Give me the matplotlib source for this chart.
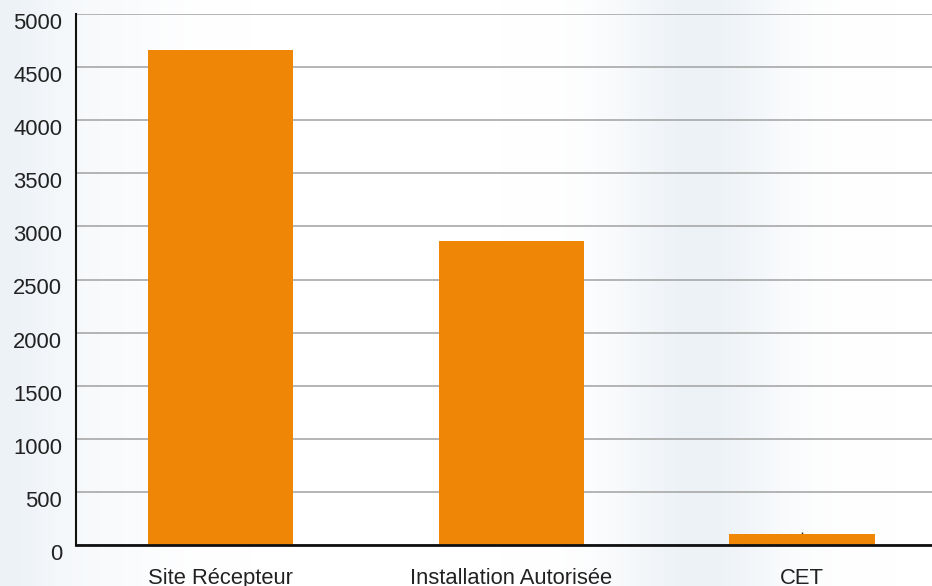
import numpy as np
import matplotlib
matplotlib.use("Agg")
import matplotlib.pyplot as plt
import matplotlib.transforms as mtransforms
from matplotlib.colors import LinearSegmentedColormap

categories = ["Site Récepteur", "Installation Autorisée", "CET"]
values = [4660, 2860, 104]
errors = [0, 0, 20]
yticks = [0, 500, 1000, 1500, 2000, 2500, 3000, 3500, 4000, 4500, 5000]

plt.rcParams["font.family"] = ["Liberation Sans", "DejaVu Sans"]

fig = plt.figure(figsize=(9.32, 5.86), dpi=100)

# soft bluish backdrop behind the plot
bg = fig.add_axes([0, 0, 1, 1], zorder=-1)
xs = np.linspace(0, 1, 932)
shade = (0.9 * np.exp(-((xs - 0.0) / 0.06) ** 2)
         + 0.35 * np.exp(-((xs - 0.10) / 0.08) ** 2)
         + 1.0 * np.exp(-((xs - 0.75) / 0.09) ** 2))
shade = np.clip(shade, 0, 1)
cmap = LinearSegmentedColormap.from_list("bgc", ["#ffffff", "#edf2f7"])
bg.imshow(shade[np.newaxis, :], aspect="auto", cmap=cmap, vmin=0, vmax=1,
          extent=[0, 1, 0, 1])
bg.axis("off")

ax = fig.add_axes([76 / 932, 1 - 545 / 586, 1 - 76 / 932, (545 - 14) / 586])
ax.patch.set_alpha(0)

x = np.arange(len(categories))
ax.bar(x, values, width=0.5, color="#f08606", zorder=3)
ax.errorbar(x[2:], values[2:], yerr=[[0], errors[2:]], fmt="none",
            ecolor="#222222", elinewidth=1, capsize=0, zorder=2)

ax.set_xlim(-0.498, 2.447)
ax.set_ylim(0, 5000)
ax.set_yticks(yticks)
ax.set_xticks(x)
ax.set_xticklabels(categories)
ax.yaxis.grid(True, color="#a8a8a8", linewidth=1.2, zorder=0)
ax.set_axisbelow(True)

for side in ["top", "right"]:
    ax.spines[side].set_visible(False)
ax.spines["left"].set_color("#111111")
ax.spines["left"].set_linewidth(1.5)
ax.spines["bottom"].set_color("#111111")
ax.spines["bottom"].set_linewidth(2)
ax.spines["bottom"].set_zorder(4)

ax.tick_params(axis="y", length=0, pad=10, labelsize=15.8, labelcolor="#222222")
ax.tick_params(axis="x", length=0, pad=16.5, labelsize=15.8, labelcolor="#222222")

# y labels sit a little below their gridlines
shift = mtransforms.ScaledTranslation(0, -7 / 100, fig.dpi_scale_trans)
for lbl in ax.get_yticklabels():
    lbl.set_transform(lbl.get_transform() + shift)

fig.savefig("out.png", dpi=100)
